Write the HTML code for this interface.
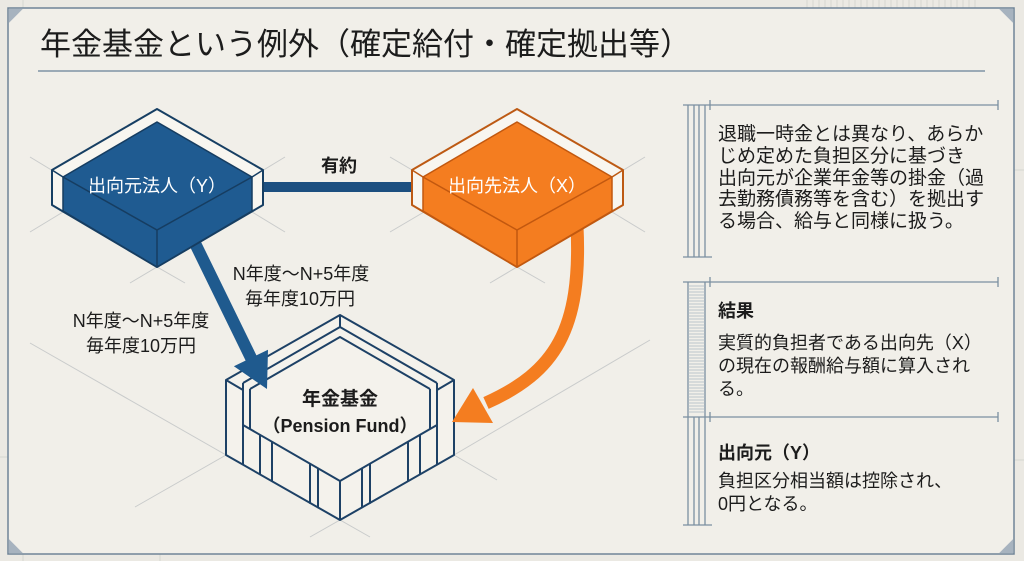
<!DOCTYPE html>
<html><head><meta charset="utf-8">
<style>
html,body{margin:0;padding:0;background:#ebe9e3;}
svg{display:block;}
text{font-family:"Liberation Sans","Noto Sans CJK JP",sans-serif;fill:#1c1c1c;}
</style></head>
<body>
<svg width="1024" height="561" viewBox="0 0 1024 561" xmlns="http://www.w3.org/2000/svg">
  <!-- outside background -->
  <rect x="0" y="0" width="1024" height="561" fill="#ebe9e3"/>
  <g stroke="#d6d6d2" stroke-width="1">
    <line x1="23" y1="0" x2="23" y2="8"/>
    <line x1="23" y1="554" x2="23" y2="561"/>
    <line x1="160" y1="554" x2="160" y2="561"/>
    <line x1="1014" y1="170" x2="1024" y2="170"/>
    <line x1="1014" y1="460" x2="1024" y2="460"/>
    <line x1="0" y1="457" x2="8" y2="457"/>
  </g>
  <g stroke="#d2d2ce" stroke-width="0.8">
    <line x1="807" y1="0" x2="807" y2="8"/><line x1="813" y1="0" x2="813" y2="8"/><line x1="819" y1="0" x2="819" y2="8"/><line x1="825" y1="0" x2="825" y2="8"/><line x1="831" y1="0" x2="831" y2="8"/><line x1="837" y1="0" x2="837" y2="8"/><line x1="843" y1="0" x2="843" y2="8"/><line x1="849" y1="0" x2="849" y2="8"/><line x1="855" y1="0" x2="855" y2="8"/><line x1="861" y1="0" x2="861" y2="8"/><line x1="867" y1="0" x2="867" y2="8"/><line x1="873" y1="0" x2="873" y2="8"/><line x1="879" y1="0" x2="879" y2="8"/><line x1="885" y1="0" x2="885" y2="8"/><line x1="891" y1="0" x2="891" y2="8"/><line x1="897" y1="0" x2="897" y2="8"/><line x1="903" y1="0" x2="903" y2="8"/><line x1="909" y1="0" x2="909" y2="8"/><line x1="915" y1="0" x2="915" y2="8"/><line x1="921" y1="0" x2="921" y2="8"/><line x1="927" y1="0" x2="927" y2="8"/><line x1="933" y1="0" x2="933" y2="8"/><line x1="939" y1="0" x2="939" y2="8"/><line x1="945" y1="0" x2="945" y2="8"/><line x1="951" y1="0" x2="951" y2="8"/><line x1="957" y1="0" x2="957" y2="8"/><line x1="963" y1="0" x2="963" y2="8"/><line x1="969" y1="0" x2="969" y2="8"/><line x1="975" y1="0" x2="975" y2="8"/>
  </g>

  <!-- frame -->
  <rect x="8" y="8" width="1006" height="546" fill="#f1efe9" stroke="#6f8497" stroke-width="1.5"/>
  <polygon points="8.8,8.8 23,8.8 8.8,23" fill="#a7b3bf"/>
  <polygon points="1013.2,8.8 999,8.8 1013.2,23" fill="#a7b3bf"/>
  <polygon points="8.8,553.2 8.8,539 23,553.2" fill="#a7b3bf"/>
  <polygon points="1013.2,553.2 1013.2,539 999,553.2" fill="#a7b3bf"/>

  <!-- title -->
  <text x="40" y="55" font-size="31">年金基金という例外（確定給付・確定拠出等）</text>
  <line x1="38" y1="71" x2="985" y2="71" stroke="#7f93a5" stroke-width="1.5"/>

  <!-- guide lines -->
  <g stroke="#c9cbcb" stroke-width="1" fill="none">
    <line x1="30" y1="157" x2="63" y2="177"/>
    <line x1="30" y1="232" x2="63" y2="212"/>
    <line x1="252" y1="177" x2="285" y2="157"/>
    <line x1="252" y1="212" x2="285" y2="232"/>
    <polyline points="130,283 157,267 185,283"/>
    <line x1="390" y1="157" x2="424" y2="177"/>
    <line x1="390" y1="232" x2="424" y2="212"/>
    <line x1="612" y1="177" x2="645" y2="157"/>
    <line x1="612" y1="212" x2="645" y2="232"/>
    <polyline points="490,283 517,267 545,283"/>
    <polyline points="30,343 226,455 135,507"/>
    <line x1="454" y1="455" x2="650" y2="340"/>
    <line x1="454" y1="455" x2="497" y2="480"/>
    <polyline points="310,537 340,520 370,537"/>
  </g>

  <!-- connection bar -->
  <rect x="260" y="182" width="155" height="10" fill="#1c4f80"/>
  <text x="339" y="172" font-size="18" font-weight="bold" text-anchor="middle">有約</text>

  <!-- pension fund -->
  <g fill="none" stroke="#1d4166" stroke-width="2" stroke-linejoin="round">
    <polygon points="340,315 454,380 454,455 340,520 226,455 226,380" fill="#f4f2ec"/>
    <line x1="340" y1="315" x2="340" y2="327"/>
    <polyline points="243,383 340,327 437,383"/>
    <polyline points="250,389 340,337 430,389"/>
    <line x1="243" y1="383" x2="243" y2="465"/>
    <line x1="250" y1="389" x2="250" y2="429"/>
    <line x1="437" y1="383" x2="437" y2="465"/>
    <line x1="430" y1="389" x2="430" y2="429"/>
    <line x1="226" y1="380" x2="243" y2="390"/>
    <line x1="454" y1="380" x2="437" y2="390"/>
    <polyline points="243,425 340,481 437,425"/>
    <line x1="340" y1="481" x2="340" y2="520"/>
    <line x1="260" y1="434.8" x2="260" y2="474.6"/>
    <line x1="272" y1="441.7" x2="272" y2="481.5"/>
    <line x1="310" y1="463.7" x2="310" y2="503.7"/>
    <line x1="318" y1="468.3" x2="318" y2="508.1"/>
    <line x1="420" y1="434.8" x2="420" y2="474.6"/>
    <line x1="408" y1="441.7" x2="408" y2="481.5"/>
    <line x1="370" y1="463.7" x2="370" y2="503.7"/>
    <line x1="362" y1="468.3" x2="362" y2="508.1"/>
  </g>
  <text x="340" y="405" font-size="19" font-weight="bold" text-anchor="middle">年金基金</text>
  <text x="340" y="432" font-size="18" font-weight="bold" text-anchor="middle">（Pension Fund）</text>

  <!-- blue arrow -->
  <line x1="190" y1="233" x2="253" y2="362" stroke="#1f5a8e" stroke-width="12"/>
  <polygon points="268,349.7 233.9,366.3 267,389" fill="#1f5a8e"/>

  <!-- orange arrow -->
  <path d="M 577 226 C 582 330, 555 372, 486 403" fill="none" stroke="#f47d20" stroke-width="13"/>
  <polygon points="452,422 473,388 493,423" fill="#f47d20"/>

  <!-- blue box -->
  <polygon points="157,109 263,170 263,205 157,267 52,205 52,170" fill="#f8f6f0" stroke="#173f63" stroke-width="2" stroke-linejoin="round"/>
  <polygon points="157,122 252,177 252,211 157,267 63,211 63,177" fill="#1f5b91" stroke="#163d61" stroke-width="1.5" stroke-linejoin="round"/>
  <polyline points="63,177 157,230 252,177" fill="none" stroke="#163d61" stroke-width="1.5"/>
  <line x1="157" y1="230" x2="157" y2="267" stroke="#163d61" stroke-width="1.5"/>
  <line x1="52" y1="170" x2="63" y2="177" stroke="#173f63" stroke-width="1.5"/>
  <line x1="263" y1="170" x2="252" y2="177" stroke="#173f63" stroke-width="1.5"/>
  <text x="157" y="192" font-size="18" text-anchor="middle" style="fill:#ffffff">出向元法人（Y）</text>

  <!-- orange box -->
  <polygon points="517,109 623,170 623,205 517,267 412,205 412,170" fill="#f8f6f0" stroke="#bd5a14" stroke-width="2" stroke-linejoin="round"/>
  <polygon points="517,122 612,177 612,211 517,267 423,211 423,177" fill="#f47d20" stroke="#c2580f" stroke-width="1.5" stroke-linejoin="round"/>
  <polyline points="423,177 517,230 612,177" fill="none" stroke="#c2580f" stroke-width="1.5"/>
  <line x1="517" y1="230" x2="517" y2="267" stroke="#c2580f" stroke-width="1.5"/>
  <line x1="412" y1="170" x2="423" y2="177" stroke="#bd5a14" stroke-width="1.5"/>
  <line x1="623" y1="170" x2="612" y2="177" stroke="#bd5a14" stroke-width="1.5"/>
  <text x="517" y="192" font-size="18" text-anchor="middle" style="fill:#ffffff">出向先法人（X）</text>

  <!-- arrow labels -->
  <text x="301" y="280" font-size="18" text-anchor="middle">N年度〜N+5年度</text>
  <text x="300" y="305" font-size="18" text-anchor="middle">毎年度10万円</text>
  <text x="141" y="327" font-size="18" text-anchor="middle">N年度〜N+5年度</text>
  <text x="141" y="352" font-size="18" text-anchor="middle">毎年度10万円</text>

  <!-- right panel lines -->
  <g stroke="#7b8fa1" stroke-width="1.3" fill="none">
    <line x1="683" y1="105" x2="998" y2="105"/>
    <line x1="710" y1="100" x2="710" y2="110"/>
    <line x1="998" y1="100" x2="998" y2="110"/>
    <line x1="688" y1="105" x2="688" y2="257"/>
    <line x1="694" y1="105" x2="694" y2="257"/>
    <line x1="699" y1="105" x2="699" y2="257"/>
    <line x1="705" y1="105" x2="705" y2="257"/>
    <line x1="683" y1="257" x2="712" y2="257"/>
    <line x1="683" y1="282" x2="998" y2="282"/>
    <line x1="710" y1="277" x2="710" y2="287"/>
    <line x1="998" y1="277" x2="998" y2="287"/>
    <line x1="688" y1="282" x2="688" y2="417"/>
    <line x1="705" y1="282" x2="705" y2="417"/>
    <line x1="683" y1="417" x2="998" y2="417"/>
    <line x1="710" y1="412" x2="710" y2="422"/>
    <line x1="998" y1="412" x2="998" y2="422"/>
    <line x1="688" y1="417" x2="688" y2="525"/>
    <line x1="694" y1="417" x2="694" y2="525"/>
    <line x1="699" y1="417" x2="699" y2="525"/>
    <line x1="705" y1="417" x2="705" y2="525"/>
    <line x1="683" y1="525" x2="712" y2="525"/>
  </g>
  <g stroke="#a9b6c2" stroke-width="0.7">
    <line x1="688" y1="286" x2="705" y2="286"/><line x1="688" y1="289" x2="705" y2="289"/><line x1="688" y1="292" x2="705" y2="292"/><line x1="688" y1="295" x2="705" y2="295"/><line x1="688" y1="298" x2="705" y2="298"/><line x1="688" y1="301" x2="705" y2="301"/><line x1="688" y1="304" x2="705" y2="304"/><line x1="688" y1="307" x2="705" y2="307"/><line x1="688" y1="310" x2="705" y2="310"/><line x1="688" y1="313" x2="705" y2="313"/><line x1="688" y1="316" x2="705" y2="316"/><line x1="688" y1="319" x2="705" y2="319"/><line x1="688" y1="322" x2="705" y2="322"/><line x1="688" y1="325" x2="705" y2="325"/><line x1="688" y1="328" x2="705" y2="328"/><line x1="688" y1="331" x2="705" y2="331"/><line x1="688" y1="334" x2="705" y2="334"/><line x1="688" y1="337" x2="705" y2="337"/><line x1="688" y1="340" x2="705" y2="340"/><line x1="688" y1="343" x2="705" y2="343"/><line x1="688" y1="346" x2="705" y2="346"/><line x1="688" y1="349" x2="705" y2="349"/><line x1="688" y1="352" x2="705" y2="352"/><line x1="688" y1="355" x2="705" y2="355"/><line x1="688" y1="358" x2="705" y2="358"/><line x1="688" y1="361" x2="705" y2="361"/><line x1="688" y1="364" x2="705" y2="364"/><line x1="688" y1="367" x2="705" y2="367"/><line x1="688" y1="370" x2="705" y2="370"/><line x1="688" y1="373" x2="705" y2="373"/><line x1="688" y1="376" x2="705" y2="376"/><line x1="688" y1="379" x2="705" y2="379"/><line x1="688" y1="382" x2="705" y2="382"/><line x1="688" y1="385" x2="705" y2="385"/><line x1="688" y1="388" x2="705" y2="388"/><line x1="688" y1="391" x2="705" y2="391"/><line x1="688" y1="394" x2="705" y2="394"/><line x1="688" y1="397" x2="705" y2="397"/><line x1="688" y1="400" x2="705" y2="400"/><line x1="688" y1="403" x2="705" y2="403"/><line x1="688" y1="406" x2="705" y2="406"/><line x1="688" y1="409" x2="705" y2="409"/><line x1="688" y1="412" x2="705" y2="412"/>
  </g>

  <!-- right panel text -->
  <g font-size="19">
    <text x="718" y="140">退職一時金とは異なり、あらか</text>
    <text x="718" y="162">じめ定めた負担区分に基づき</text>
    <text x="718" y="184">出向元が企業年金等の掛金（過</text>
    <text x="718" y="205">去勤務債務等を含む）を拠出す</text>
    <text x="718" y="227">る場合、給与と同様に扱う。</text>
  </g>
  <g font-size="18">
    <text x="718" y="317" font-weight="bold">結果</text>
    <text x="718" y="349">実質的負担者である出向先（X）</text>
    <text x="718" y="372">の現在の報酬給与額に算入され</text>
    <text x="718" y="395">る。</text>
    <text x="718" y="459" font-weight="bold">出向元（Y）</text>
    <text x="718" y="487">負担区分相当額は控除され、</text>
    <text x="718" y="510">0円となる。</text>
  </g>
</svg>
</body></html>
